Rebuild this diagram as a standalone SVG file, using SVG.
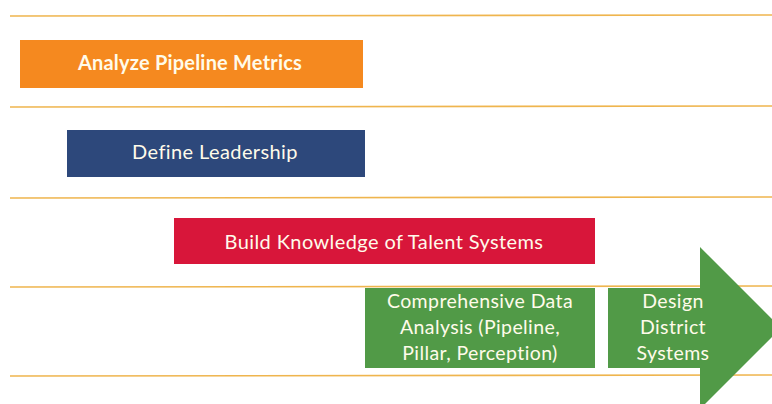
<svg xmlns="http://www.w3.org/2000/svg" width="772" height="404" viewBox="0 0 772 404">
<style>
.rule{stroke:#efb54e;stroke-width:1.6;fill:none}
.t{font-family:Lato,"Open Sans","DejaVu Sans",sans-serif;fill:#fffbea;text-anchor:middle}
.t1{font-size:20px;font-weight:700;letter-spacing:0.2px}
.t2{font-size:20px;font-weight:400;letter-spacing:0.4px}
.t3{font-size:19.5px;font-weight:400;letter-spacing:0.4px}
</style>
<rect width="772" height="404" fill="#ffffff"/>
<g id="rules">
<line class="rule" x1="10" y1="16" x2="772" y2="15"/>
<line class="rule" x1="10" y1="107" x2="772" y2="106"/>
<line class="rule" x1="10" y1="198" x2="772" y2="197"/>
<line class="rule" x1="10" y1="287" x2="772" y2="286"/>
<line class="rule" x1="10" y1="376" x2="772" y2="375"/>
</g>
<g id="n1">
<rect x="20" y="40" width="343" height="48" fill="#f5891f"/>
<text class="t t1" x="190" y="70">Analyze Pipeline Metrics</text>
</g>
<g id="n2">
<rect x="67" y="130" width="298" height="47" fill="#2d487b"/>
<text class="t t2" x="215" y="159">Define Leadership</text>
</g>
<g id="n3">
<rect x="174" y="218" width="421" height="46" fill="#d8163a"/>
<text class="t t2" x="384" y="249">Build Knowledge of Talent Systems</text>
</g>
<g id="n4">
<rect x="365" y="288" width="230" height="80" fill="#519a47"/>
<text class="t t3" x="480" y="308">Comprehensive Data</text>
<text class="t t3" x="480" y="334">Analysis (Pipeline,</text>
<text class="t t3" x="480" y="360">Pillar, Perception)</text>
</g>
<g id="n5">
<path d="M608 288 H700 V247 L781 328 L700 409 V368 H608 Z" fill="#519a47"/>
<text class="t t3" x="673" y="308">Design</text>
<text class="t t3" x="673" y="334">District</text>
<text class="t t3" x="673" y="360">Systems</text>
</g>
<g id="connectors"></g>
</svg>
